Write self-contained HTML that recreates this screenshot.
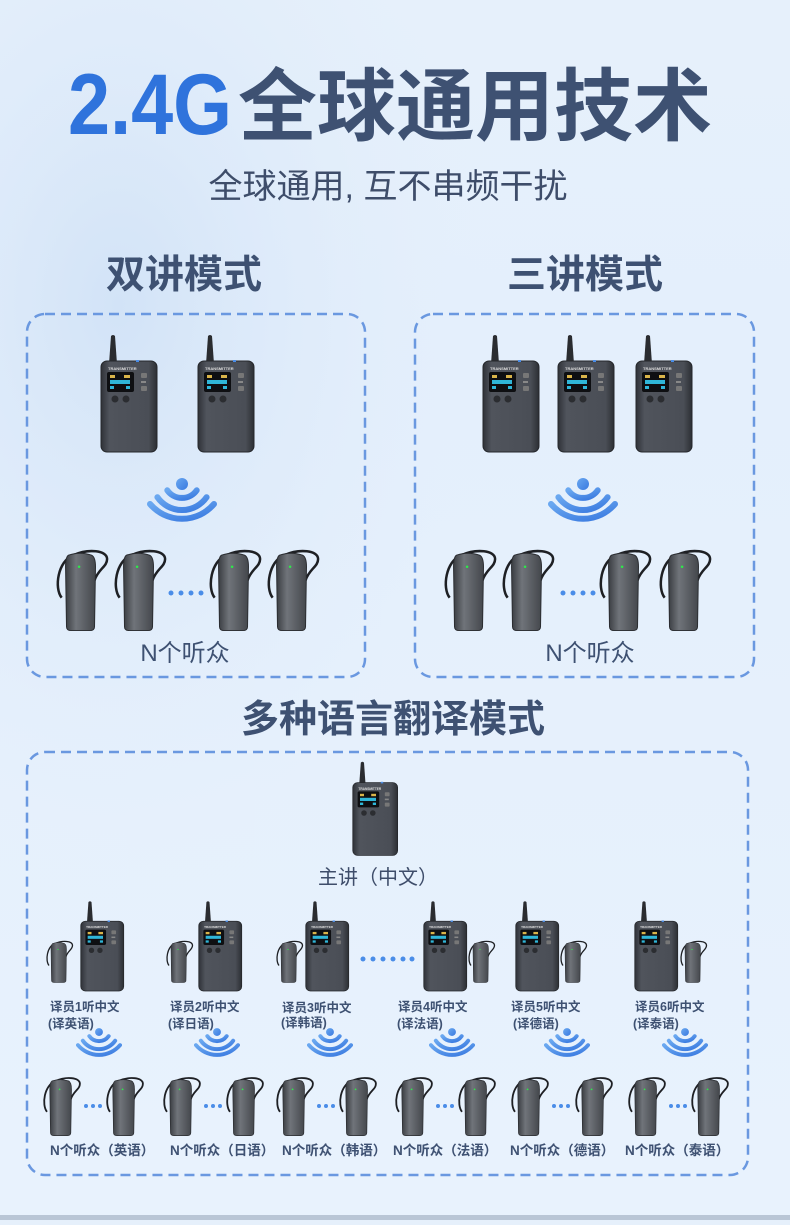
<!DOCTYPE html>
<html><head><meta charset="utf-8"><style>
html,body{margin:0;padding:0;}
body{width:790px;height:1220px;overflow:hidden;background:linear-gradient(180deg,#e6f0fb 0%,#e4effc 30%,#e8f2fd 100%);}
svg text{font-family:"Liberation Sans","Noto Sans CJK SC",sans-serif;}
</style></head><body>
<svg width="790" height="1220" viewBox="0 0 790 1220" xmlns="http://www.w3.org/2000/svg">
<defs>
<radialGradient id="bg1" cx="0.15" cy="0.25" r="0.5"><stop offset="0" stop-color="#d2e3f7"/><stop offset="1" stop-color="#e6f0fb" stop-opacity="0"/></radialGradient>
<linearGradient id="bodyG" x1="0" y1="0" x2="1" y2="0"><stop offset="0" stop-color="#2f3238"/><stop offset="0.15" stop-color="#50545c"/><stop offset="0.85" stop-color="#4a4e56"/><stop offset="1" stop-color="#2c2f34"/></linearGradient>
<linearGradient id="earG" x1="0" y1="0" x2="1" y2="0"><stop offset="0" stop-color="#3a3d42"/><stop offset="0.35" stop-color="#70747a"/><stop offset="1" stop-color="#44474c"/></linearGradient>
<linearGradient id="wG" x1="0" y1="0" x2="1" y2="1"><stop offset="0" stop-color="#6aa8f0"/><stop offset="1" stop-color="#3a7ae0"/></linearGradient>
<symbol id="tx" viewBox="0 0 60 120">
<path d="M9,30 L11,2 Q13,0 15,2 L17,30 Z" fill="#2a2c30"/>
<rect x="1" y="27" width="56" height="91" rx="6" fill="url(#bodyG)"/>
<rect x="1" y="27" width="56" height="91" rx="6" fill="none" stroke="#25272b" stroke-width="1"/>
<rect x="36" y="26" width="3" height="2" fill="#4a8de8"/>
<text x="8" y="36" font-size="4" fill="#ddd" font-weight="bold">TRANSMITTER</text>
<rect x="7" y="38" width="27" height="20" rx="2" fill="#0e0f12"/>
<rect x="10" y="41" width="5" height="3" fill="#d9b44a"/><rect x="24" y="41" width="6" height="3" fill="#d9b44a"/>
<rect x="10" y="46" width="20" height="4" fill="#2fb6d8"/>
<rect x="10" y="52" width="4" height="3" fill="#2fb6d8"/><rect x="26" y="52" width="4" height="3" fill="#2fb6d8"/>
<rect x="41" y="39" width="6" height="5" rx="1" fill="#777"/><rect x="41" y="47" width="5" height="2" fill="#888"/><rect x="41" y="52" width="6" height="5" rx="1" fill="#777"/>
<circle cx="15" cy="65" r="3.5" fill="#2b2d31"/><circle cx="26" cy="65" r="3.5" fill="#2b2d31"/>
</symbol>
<symbol id="ear" viewBox="0 0 60 90">
<path d="M10,54 C2,44 6,16 22,10 C38,3 57,5 57,14 C57,22 48,24 44,36" fill="none" stroke="#1e2024" stroke-width="2.6"/>
<path d="M17,10 Q29,6 41,10 Q45,12 45,22 L44,84 Q44,88 39,88 L20,88 Q15,88 15,84 L14,22 Q14,12 17,10 Z" fill="url(#earG)" stroke="#2a2c30" stroke-width="1"/>
<circle cx="28" cy="22" r="1.3" fill="#2ee84a"/>
</symbol>
<symbol id="wifi" viewBox="0 0 70 50">
<circle cx="35" cy="6" r="6" fill="url(#wG)"/>
<g fill="none" stroke="url(#wG)" stroke-width="6" stroke-linecap="round">
<path d="M20.3,12.3 A18,18 0 0 0 49.7,12.3"/>
<path d="M10.4,19.2 A30,30 0 0 0 59.6,19.2"/>
<path d="M3,26 A42,42 0 0 0 67,26"/>
</g>
</symbol>
</defs>
<rect width="790" height="1220" fill="url(#bg1)"/>
<text x="68" y="134" font-size="86" fill="#2f73dc" font-weight="bold" textLength="164" lengthAdjust="spacingAndGlyphs">2.4G</text>
<text x="238" y="134" font-size="79" fill="#3e5172" font-weight="bold">全球通用技术</text>
<text x="388" y="198" font-size="34" fill="#3e4d6a" text-anchor="middle">全球通用, 互不串频干扰</text>
<text x="184" y="288" font-size="39" fill="#3e5172" font-weight="bold" text-anchor="middle">双讲模式</text>
<text x="585" y="288" font-size="39" fill="#3e5172" font-weight="bold" text-anchor="middle">三讲模式</text>
<g fill="none" stroke="#6a98e0" stroke-width="2.5" stroke-dasharray="10,6">
<rect x="27" y="314" width="338" height="363" rx="18"/>
<rect x="415" y="314" width="339" height="363" rx="18"/>
<rect x="27" y="752" width="721" height="423" rx="18"/>
</g>
<!-- box 1 -->
<use href="#tx" x="100" y="334" width="60" height="120"/>
<use href="#tx" x="197" y="334" width="60" height="120"/>
<use href="#wifi" x="147" y="478" width="70" height="50"/>
<use href="#ear" x="52" y="545" width="58" height="88"/>
<use href="#ear" x="110" y="545" width="58" height="88"/>
<use href="#ear" x="205" y="545" width="58" height="88"/>
<use href="#ear" x="263" y="545" width="58" height="88"/>
<g fill="#4a8de8"><circle cx="171" cy="593" r="2.5"/><circle cx="181" cy="593" r="2.5"/><circle cx="191" cy="593" r="2.5"/><circle cx="201" cy="593" r="2.5"/></g>
<text x="185" y="661" font-size="24" fill="#3e5172" text-anchor="middle">N个听众</text>
<!-- box 2 -->
<use href="#tx" x="482" y="334" width="60" height="120"/>
<use href="#tx" x="557" y="334" width="60" height="120"/>
<use href="#tx" x="635" y="334" width="60" height="120"/>
<use href="#wifi" x="548" y="478" width="70" height="50"/>
<use href="#ear" x="440" y="545" width="58" height="88"/>
<use href="#ear" x="498" y="545" width="58" height="88"/>
<use href="#ear" x="595" y="545" width="58" height="88"/>
<use href="#ear" x="655" y="545" width="58" height="88"/>
<g fill="#4a8de8"><circle cx="563" cy="593" r="2.5"/><circle cx="573" cy="593" r="2.5"/><circle cx="583" cy="593" r="2.5"/><circle cx="593" cy="593" r="2.5"/></g>
<text x="590" y="661" font-size="24" fill="#3e5172" text-anchor="middle">N个听众</text>
<!-- box 3 -->
<text x="393" y="732" font-size="38" fill="#3e5172" font-weight="bold" text-anchor="middle">多种语言翻译模式</text>
<use href="#tx" x="352" y="761" width="48" height="96"/>
<text x="378" y="884" font-size="20" fill="#3e4d6a" text-anchor="middle">主讲（中文）</text>
<g>
<use href="#tx" x="80" y="900" width="46" height="93"/><use href="#ear" x="44" y="938" width="30" height="46"/>
<use href="#tx" x="198" y="900" width="46" height="93"/><use href="#ear" x="164" y="938" width="30" height="46"/>
<use href="#tx" x="305" y="900" width="46" height="93"/><use href="#ear" x="274" y="938" width="30" height="46"/>
<use href="#tx" x="423" y="900" width="46" height="93"/><use href="#ear" x="466" y="938" width="30" height="46"/>
<use href="#tx" x="515" y="900" width="46" height="93"/><use href="#ear" x="558" y="938" width="30" height="46"/>
<use href="#tx" x="634" y="900" width="46" height="93"/><use href="#ear" x="678" y="938" width="30" height="46"/>
</g>
<g fill="#4a8de8"><circle cx="363" cy="959" r="2.5"/><circle cx="373" cy="959" r="2.5"/><circle cx="383" cy="959" r="2.5"/><circle cx="393" cy="959" r="2.5"/><circle cx="403" cy="959" r="2.5"/><circle cx="412" cy="959" r="2.5"/></g>
<g font-size="12.5" fill="#3e5172" font-weight="bold">
<text x="50" y="1011">译员1听中文</text><text x="48" y="1028">(译英语)</text>
<text x="170" y="1011">译员2听中文</text><text x="168" y="1028">(译日语)</text>
<text x="282" y="1012">译员3听中文</text><text x="281" y="1027">(译韩语)</text>
<text x="398" y="1011">译员4听中文</text><text x="397" y="1028">(译法语)</text>
<text x="511" y="1011">译员5听中文</text><text x="513" y="1028">(译德语)</text>
<text x="635" y="1011">译员6听中文</text><text x="633" y="1028">(译泰语)</text>
</g>
<use href="#wifi" x="76" y="1028" width="46" height="33"/>
<use href="#wifi" x="194" y="1028" width="46" height="33"/>
<use href="#wifi" x="307" y="1028" width="46" height="33"/>
<use href="#wifi" x="429" y="1028" width="46" height="33"/>
<use href="#wifi" x="544" y="1028" width="46" height="33"/>
<use href="#wifi" x="662" y="1028" width="46" height="33"/>
<g>
<use href="#ear" x="40" y="1074" width="42" height="63"/><use href="#ear" x="103" y="1074" width="42" height="63"/>
<use href="#ear" x="160" y="1074" width="42" height="63"/><use href="#ear" x="223" y="1074" width="42" height="63"/>
<use href="#ear" x="273" y="1074" width="42" height="63"/><use href="#ear" x="336" y="1074" width="42" height="63"/>
<use href="#ear" x="392" y="1074" width="42" height="63"/><use href="#ear" x="455" y="1074" width="42" height="63"/>
<use href="#ear" x="508" y="1074" width="42" height="63"/><use href="#ear" x="572" y="1074" width="42" height="63"/>
<use href="#ear" x="625" y="1074" width="42" height="63"/><use href="#ear" x="688" y="1074" width="42" height="63"/>
</g>
<g fill="#4a8de8">
<circle cx="86" cy="1106" r="2"/><circle cx="93" cy="1106" r="2"/><circle cx="100" cy="1106" r="2"/>
<circle cx="206" cy="1106" r="2"/><circle cx="213" cy="1106" r="2"/><circle cx="220" cy="1106" r="2"/>
<circle cx="319" cy="1106" r="2"/><circle cx="326" cy="1106" r="2"/><circle cx="333" cy="1106" r="2"/>
<circle cx="438" cy="1106" r="2"/><circle cx="445" cy="1106" r="2"/><circle cx="452" cy="1106" r="2"/>
<circle cx="554" cy="1106" r="2"/><circle cx="561" cy="1106" r="2"/><circle cx="568" cy="1106" r="2"/>
<circle cx="671" cy="1106" r="2"/><circle cx="678" cy="1106" r="2"/><circle cx="685" cy="1106" r="2"/>
</g>
<g font-size="13.5" fill="#3e5172" font-weight="bold">
<text x="50" y="1155">N个听众（英语）</text>
<text x="170" y="1155">N个听众（日语）</text>
<text x="282" y="1155">N个听众（韩语）</text>
<text x="393" y="1155">N个听众（法语）</text>
<text x="510" y="1155">N个听众（德语）</text>
<text x="625" y="1155">N个听众（泰语）</text>
</g>
<rect x="0" y="1215" width="790" height="5" fill="#b9c6d6"/>
</svg>
</body></html>
